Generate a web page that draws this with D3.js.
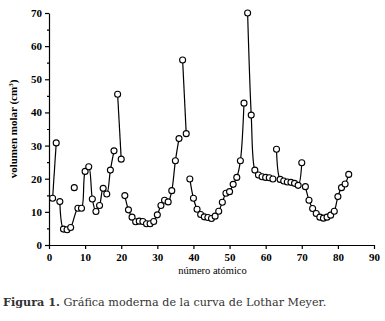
<!DOCTYPE html>
<html>
<head>
<meta charset="utf-8">
<script src="https://cdn.jsdelivr.net/npm/d3@7"></script>
<style>
  body { margin: 0; background: #fff; }
  svg { display: block; }
</style>
</head>
<body>
<svg id="chart" width="385" height="321"></svg>
<script>
// atomic number vs molar volume (cm3)
var atomicNumbers = d3.range(1, 84);
var molarVolumes = [
  14.1, 30.8, 13.1, 4.8, 4.6, 5.3, 17.3, 11.1, 11.1, 22.2,
  23.6, 13.9, 10.1, 11.9, 17.1, 15.4, 22.6, 28.4, 45.5, 25.9,
  14.9, 10.6, 8.4, 7.0, 7.2, 7.1, 6.4, 6.4, 7.1, 9.1,
  11.9, 13.5, 13.0, 16.4, 25.4, 32.1, 55.8, 33.6, 19.9, 14.1,
  10.8, 9.2, 8.5, 8.3, 8.0, 8.7, 10.2, 12.9, 15.6, 16.1,
  18.3, 20.4, 25.4, 42.8, 70.0, 39.2, 22.6, 21.1, 20.6, 20.4,
  20.3, 19.9, 28.9, 19.8, 19.3, 19.0, 18.9, 18.6, 18.0, 24.8,
  17.6, 13.5, 11.0, 9.5, 8.4, 8.1, 8.4, 9.0, 10.2, 14.6,
  17.3, 18.4, 21.3
];
// which elements are joined by the curve (N = 7 stands alone)
var curveGroups = [
  [1, 2],
  [3, 4, 5, 6, 8, 9, 10, 11, 12, 13, 14, 15, 16, 17, 18],
  [19, 20],
  d3.range(21, 37),
  [37, 38],
  d3.range(39, 55),
  d3.range(55, 63),
  d3.range(63, 71),
  d3.range(71, 84)
];
var xTicks = [0, 10, 20, 30, 40, 50, 60, 70, 80, 90];
var yTicks = [0, 10, 20, 30, 40, 50, 60, 70];

var svg = d3.select("#chart");
var x = d3.scaleLinear().domain([0, 90]).range([49, 374]);
var y = d3.scaleLinear().domain([0, 70]).range([245, 13]);

var points = atomicNumbers.map(function(z, i) { return {z: z, v: molarVolumes[i]}; });
var byZ = {};
points.forEach(function(p) { byZ[p.z] = p; });

var tickFont = "'Liberation Serif', 'Times New Roman', serif";

// y axis
svg.append("g")
    .attr("transform", "translate(" + x(0) + ",0)")
    .call(d3.axisLeft(y).tickValues(yTicks).tickSize(4).tickPadding(3).tickSizeOuter(0));
svg.append("g")
    .attr("transform", "translate(" + x(0) + ",0)")
    .call(d3.axisLeft(y).tickValues(d3.range(5, 70, 10)).tickSize(2).tickFormat("").tickSizeOuter(0))
    .select(".domain").remove();

// x axis
svg.append("g")
    .attr("transform", "translate(0," + y(0) + ")")
    .call(d3.axisBottom(x).tickValues(xTicks).tickSize(4).tickPadding(4).tickSizeOuter(0));

svg.selectAll(".tick text")
    .style("font-family", tickFont)
    .style("font-weight", "bold")
    .style("font-size", "11px")
    .attr("fill", "#000");
svg.selectAll(".domain, .tick line").attr("stroke", "#000").attr("stroke-width", 1.2);

// axis titles
var yTitle = svg.append("text")
    .attr("transform", "translate(17," + ((y(0) + y(70)) / 2) + ") rotate(-90)")
    .attr("text-anchor", "middle")
    .style("font-family", tickFont)
    .style("font-weight", "bold")
    .style("font-size", "11px");
yTitle.append("tspan").text("volumen molar (cm");
yTitle.append("tspan").attr("dy", -4).style("font-size", "7px").text("3");
yTitle.append("tspan").attr("dy", 4).text(")");

svg.append("text")
    .attr("x", (x(0) + x(90)) / 2 + 1)
    .attr("y", 274)
    .attr("text-anchor", "middle")
    .style("font-family", tickFont)
    .style("font-size", "10.5px")
    .text("número atómico");

// curves
var line = d3.line()
    .x(function(d) { return x(d.z); })
    .y(function(d) { return y(d.v); })
    .curve(d3.curveCatmullRom.alpha(0.5));

svg.append("g").selectAll("path")
    .data(curveGroups)
    .enter().append("path")
    .attr("d", function(g) { return line(g.map(function(z) { return byZ[z]; })); })
    .attr("fill", "none")
    .attr("stroke", "#000")
    .attr("stroke-width", 1.2);

// markers
svg.append("g").selectAll("circle")
    .data(points)
    .enter().append("circle")
    .attr("cx", function(d) { return x(d.z); })
    .attr("cy", function(d) { return y(d.v); })
    .attr("r", 3)
    .attr("fill", "#fff")
    .attr("stroke", "#000")
    .attr("stroke-width", 1.1);

// caption
var cap = svg.append("text")
    .attr("x", 3)
    .attr("y", 306)
    .style("font-family", "'DejaVu Serif', serif")
    .style("font-size", "11.2px")
    .attr("fill", "#333");
cap.append("tspan").style("font-weight", "bold").text("Figura 1.");
cap.append("tspan").text(" Gráfica moderna de la curva de Lothar Meyer.");
</script>
</body>
</html>
